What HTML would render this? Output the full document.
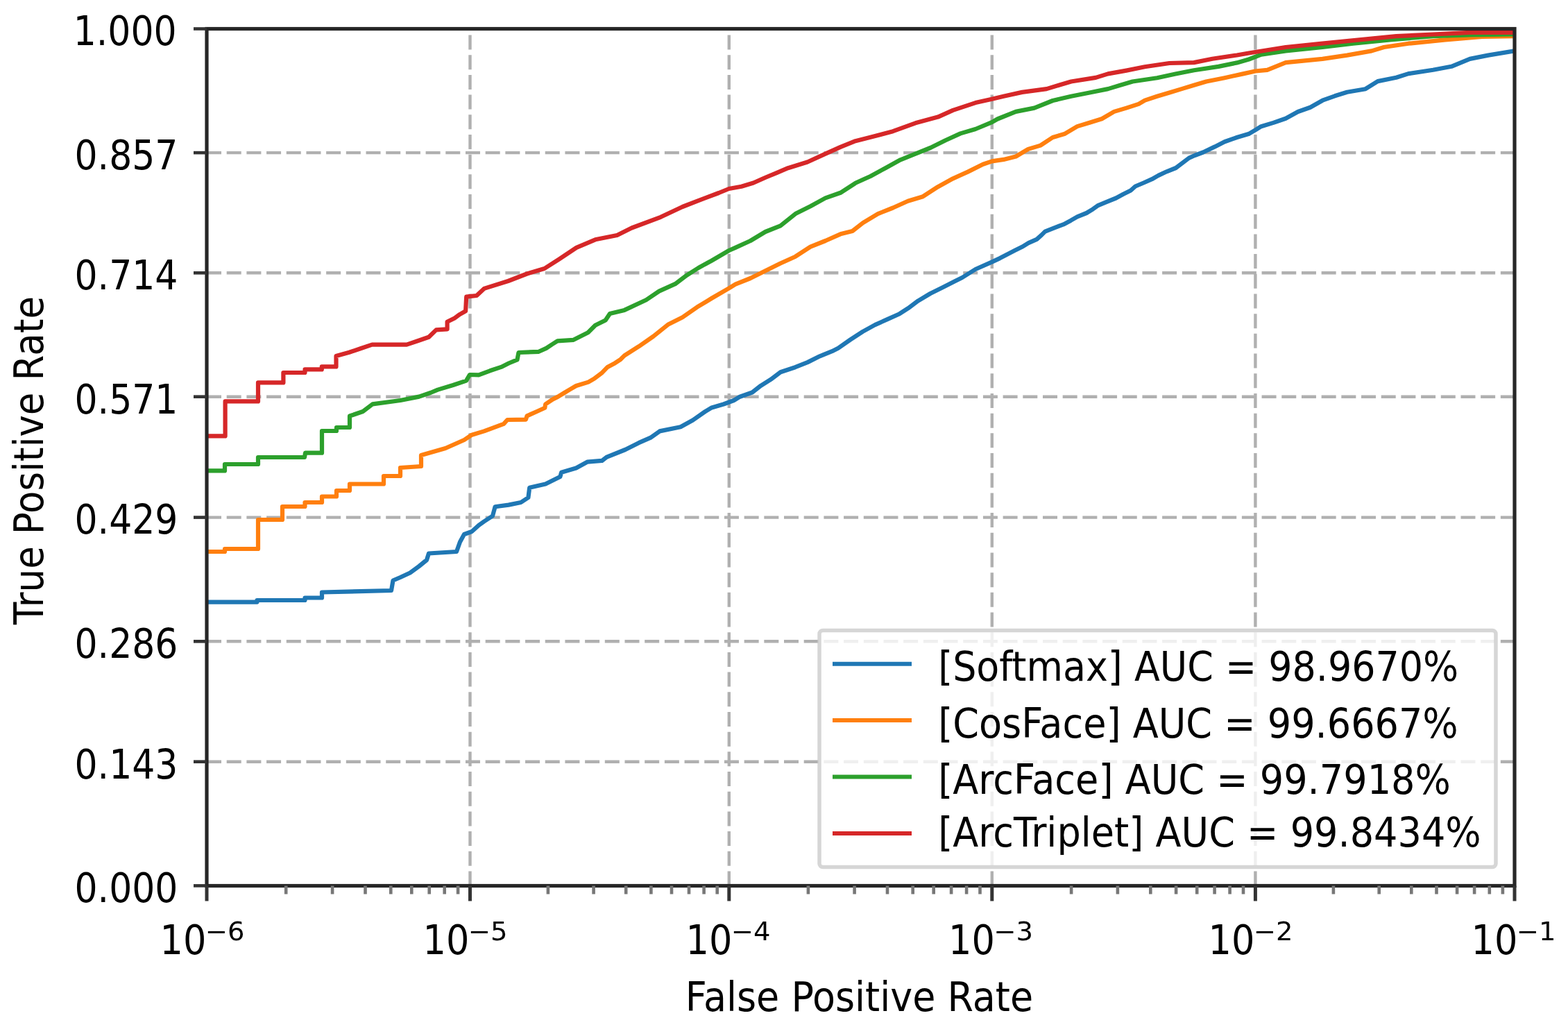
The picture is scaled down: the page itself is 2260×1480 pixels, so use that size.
<!DOCTYPE html>
<html><head><meta charset="utf-8"><title>ROC</title><style>
html,body{margin:0;padding:0;background:#fff;width:2260px;height:1480px;overflow:hidden}
svg{display:block}
text{font-family:"DejaVu Sans","Liberation Sans",sans-serif;fill:#000}
</style></head><body>
<svg width="2260" height="1480" viewBox="0 0 2260 1480">
<rect width="2260" height="1480" fill="#fff"/>
<line x1="298" y1="220.1" x2="2183" y2="220.1" stroke="#b0b0b0" stroke-width="4.4" stroke-dasharray="21 7.69" fill="none"/>
<line x1="298" y1="393.3" x2="2183" y2="393.3" stroke="#b0b0b0" stroke-width="4.4" stroke-dasharray="21 7.69" fill="none"/>
<line x1="298" y1="571.7" x2="2183" y2="571.7" stroke="#b0b0b0" stroke-width="4.4" stroke-dasharray="21 7.69" fill="none"/>
<line x1="298" y1="745.6" x2="2183" y2="745.6" stroke="#b0b0b0" stroke-width="4.4" stroke-dasharray="21 7.69" fill="none"/>
<line x1="298" y1="924.3" x2="2183" y2="924.3" stroke="#b0b0b0" stroke-width="4.4" stroke-dasharray="21 7.69" fill="none"/>
<line x1="298" y1="1097.7" x2="2183" y2="1097.7" stroke="#b0b0b0" stroke-width="4.4" stroke-dasharray="21 7.69" fill="none"/>
<line x1="677.5" y1="1276.5" x2="677.5" y2="41.5" stroke="#b0b0b0" stroke-width="4.4" stroke-dasharray="21 7.69" fill="none"/>
<line x1="1050.8" y1="1276.5" x2="1050.8" y2="41.5" stroke="#b0b0b0" stroke-width="4.4" stroke-dasharray="21 7.69" fill="none"/>
<line x1="1429.8" y1="1276.5" x2="1429.8" y2="41.5" stroke="#b0b0b0" stroke-width="4.4" stroke-dasharray="21 7.69" fill="none"/>
<line x1="1809.4" y1="1276.5" x2="1809.4" y2="41.5" stroke="#b0b0b0" stroke-width="4.4" stroke-dasharray="21 7.69" fill="none"/>
<clipPath id="c"><rect x="298" y="41.5" width="1885" height="1235.0"/></clipPath>
<g clip-path="url(#c)" fill="none" stroke-width="6.2" stroke-linejoin="round" stroke-linecap="butt">
<polyline stroke="#1f77b4" points="298.0,867.6 370.5,867.6 370.5,865.0 439.5,865.0 439.5,861.5 464.0,861.5 464.0,853.5 564.0,851.0 566.5,836.5 577.0,832.0 591.0,825.5 604.0,816.0 615.0,807.0 618.0,797.5 658.0,795.0 663.0,781.0 669.0,770.0 680.0,766.0 690.0,757.0 697.7,751.5 710.0,743.5 713.6,730.3 733.0,727.6 750.8,724.0 761.4,717.0 763.2,702.8 786.2,697.5 807.4,686.9 809.2,680.7 830.4,674.5 846.4,665.7 867.6,663.9 874.7,658.6 901.2,648.0 920.7,638.2 938.4,630.3 950.8,621.4 980.9,615.2 998.6,605.5 1016.3,593.1 1025.0,587.8 1042.8,582.5 1057.7,577.0 1066.5,571.7 1084.2,565.5 1096.6,555.8 1110.8,546.9 1125.0,536.3 1146.2,529.2 1163.9,522.1 1181.6,513.3 1199.3,506.2 1208.1,501.8 1225.8,489.4 1243.5,477.9 1261.2,468.1 1279.0,460.2 1296.6,452.2 1309.0,444.2 1323.2,433.6 1340.9,423.0 1358.6,414.2 1376.3,405.3 1386.9,400.0 1406.0,388.0 1430.0,377.4 1441.2,372.1 1451.9,366.4 1462.5,361.1 1473.1,355.8 1482.4,350.2 1494.3,344.9 1501.0,338.9 1506.3,333.6 1519.6,328.3 1532.8,323.4 1543.5,317.7 1552.7,312.3 1566.0,307.0 1575.3,301.3 1582.0,296.4 1595.2,290.8 1608.5,285.5 1619.1,279.8 1629.7,274.5 1636.4,268.5 1648.3,263.5 1660.3,258.2 1669.6,252.9 1681.5,247.3 1694.8,242.0 1713.8,227.6 1722.0,224.0 1734.0,219.5 1751.0,211.4 1765.1,204.2 1782.8,198.0 1800.5,192.7 1809.4,187.4 1817.7,182.2 1835.4,176.9 1853.1,170.7 1870.8,161.0 1888.5,154.8 1906.2,144.7 1923.9,138.3 1941.6,132.7 1968.1,128.2 1985.8,117.1 2012.4,111.8 2030.1,106.1 2065.5,100.8 2092.0,95.8 2118.6,84.9 2145.1,79.6 2183.0,73.4"/>
<polyline stroke="#ff7f0e" points="298.0,795.0 324.0,795.0 324.0,791.0 372.0,791.0 372.0,749.0 407.0,749.0 407.0,730.0 439.5,730.0 439.5,724.0 464.0,724.0 464.0,715.5 485.0,715.5 485.0,707.0 504.0,707.0 504.0,697.5 553.0,697.5 553.0,686.0 577.0,686.0 577.0,674.0 607.0,672.0 607.0,656.0 642.0,646.0 669.0,634.0 680.0,626.7 697.7,621.4 726.0,610.8 731.3,605.0 757.9,604.6 759.6,599.3 773.8,593.0 785.3,587.8 786.2,582.5 796.8,575.4 803.9,571.9 812.7,566.5 821.6,561.2 830.4,556.0 848.0,550.6 857.0,545.3 867.0,537.8 875.7,528.9 886.5,523.2 894.6,517.8 900.0,512.4 920.8,499.2 941.8,484.6 962.7,467.8 983.7,457.3 1004.6,442.7 1025.5,430.0 1050.7,415.4 1060.0,409.7 1081.6,401.0 1103.2,390.3 1124.9,379.5 1146.5,369.7 1168.1,355.7 1189.7,347.0 1211.4,337.3 1228.6,333.0 1243.8,321.1 1265.4,308.1 1287.0,299.5 1308.6,289.7 1330.3,283.2 1351.9,269.2 1373.5,257.3 1395.0,247.6 1416.8,236.8 1429.7,232.4 1446.5,229.9 1464.2,225.5 1481.9,214.9 1499.6,209.6 1517.3,198.0 1535.0,192.7 1552.7,182.1 1570.4,176.8 1588.1,171.2 1605.8,160.9 1623.5,155.6 1641.2,149.9 1650.1,144.6 1667.8,138.8 1685.5,133.5 1703.2,128.1 1720.9,122.8 1738.6,117.5 1765.1,112.2 1791.7,106.4 1809.4,102.5 1826.5,100.8 1853.1,90.2 1906.2,84.9 1941.6,79.6 1977.0,73.4 1994.7,68.0 2030.1,62.7 2083.2,57.4 2136.3,53.0 2183.0,52.1"/>
<polyline stroke="#2ca02c" points="298.0,678.4 324.0,678.4 324.0,669.0 372.0,669.0 372.0,659.0 439.0,659.0 440.0,652.7 464.0,652.7 464.0,621.0 485.0,621.0 485.0,616.0 504.0,616.0 504.0,599.5 523.0,593.0 537.0,582.4 577.0,577.0 604.0,571.6 620.5,566.0 631.0,561.6 653.0,555.0 672.0,548.6 677.0,540.0 690.0,540.3 706.2,534.3 722.4,528.9 733.2,523.5 745.5,518.4 747.5,508.0 776.5,506.8 787.3,501.9 795.4,496.5 803.5,491.4 826.6,489.8 847.5,479.3 858.0,468.8 872.7,461.5 879.0,452.0 900.0,446.9 931.3,432.2 950.0,419.6 973.2,409.2 990.0,396.6 1006.7,386.0 1025.5,375.7 1050.7,361.0 1060.0,356.8 1081.6,347.0 1103.2,334.0 1124.9,325.4 1146.5,308.1 1168.1,297.3 1189.7,285.4 1211.4,277.8 1233.0,263.8 1254.6,254.0 1276.2,242.2 1297.8,230.3 1319.5,221.6 1341.0,213.0 1362.7,202.2 1384.3,192.4 1406.0,186.0 1429.7,176.2 1437.7,171.5 1464.2,160.9 1490.8,155.6 1517.3,145.0 1543.9,138.8 1570.4,133.5 1597.0,128.1 1614.7,122.8 1632.4,117.5 1667.8,112.2 1694.3,106.5 1720.9,101.2 1756.3,95.9 1782.8,90.4 1800.0,85.5 1817.7,78.7 1853.1,73.4 1906.2,68.0 1950.4,62.7 2003.5,57.4 2065.5,52.1 2118.6,50.4 2183.0,49.5"/>
<polyline stroke="#d62728" points="298.0,628.4 324.6,628.4 324.6,578.4 372.0,578.4 372.0,551.4 408.4,551.4 408.4,537.0 439.5,537.0 439.5,532.4 463.8,532.4 463.8,528.4 484.5,528.4 484.5,513.0 503.4,507.8 520.4,502.0 536.3,496.6 586.2,496.6 602.1,491.3 618.0,485.8 628.7,475.4 644.6,474.3 644.6,463.7 655.2,458.4 662.6,453.1 671.1,448.3 672.2,427.6 687.0,426.0 697.7,415.9 732.4,405.0 759.6,394.5 784.7,387.0 805.7,373.6 830.8,356.8 858.0,345.3 889.4,339.0 910.4,328.5 952.3,312.8 983.7,298.0 1004.6,289.8 1036.0,278.0 1050.7,272.0 1068.7,268.8 1086.0,263.5 1104.0,255.5 1120.0,248.8 1135.7,242.2 1163.8,233.5 1189.7,221.6 1211.4,211.9 1233.0,203.2 1254.6,197.8 1287.0,189.2 1319.5,177.3 1351.9,168.6 1373.5,158.9 1406.0,148.1 1429.7,142.7 1446.5,138.8 1473.1,132.9 1508.5,128.1 1526.2,122.8 1543.9,117.5 1579.3,111.9 1597.0,106.4 1623.5,101.6 1650.0,96.3 1685.5,91.0 1720.9,90.1 1747.4,84.8 1782.8,79.5 1800.0,76.5 1853.1,68.0 1906.2,62.7 1959.3,57.4 2012.4,52.1 2065.5,49.5 2118.6,46.8 2183.0,46.8"/>
</g>
<rect x="298" y="41.5" width="1885" height="1235.0" fill="none" stroke="#262626" stroke-width="5.2"/>
<line x1="279" y1="41.5" x2="298" y2="41.5" stroke="#333" stroke-width="4.6"/>
<text transform="translate(105.72,65.30) scale(0.8970,1)" font-size="58">1.000</text>
<line x1="279" y1="220.1" x2="298" y2="220.1" stroke="#333" stroke-width="4.6"/>
<text transform="translate(107.51,243.90) scale(0.8970,1)" font-size="58">0.857</text>
<line x1="279" y1="393.3" x2="298" y2="393.3" stroke="#333" stroke-width="4.6"/>
<text transform="translate(107.51,417.10) scale(0.8970,1)" font-size="58">0.714</text>
<line x1="279" y1="571.7" x2="298" y2="571.7" stroke="#333" stroke-width="4.6"/>
<text transform="translate(107.51,595.50) scale(0.8970,1)" font-size="58">0.571</text>
<line x1="279" y1="745.6" x2="298" y2="745.6" stroke="#333" stroke-width="4.6"/>
<text transform="translate(107.51,769.40) scale(0.8970,1)" font-size="58">0.429</text>
<line x1="279" y1="924.3" x2="298" y2="924.3" stroke="#333" stroke-width="4.6"/>
<text transform="translate(107.51,948.10) scale(0.8970,1)" font-size="58">0.286</text>
<line x1="279" y1="1097.7" x2="298" y2="1097.7" stroke="#333" stroke-width="4.6"/>
<text transform="translate(107.51,1121.50) scale(0.8970,1)" font-size="58">0.143</text>
<line x1="279" y1="1276.4" x2="298" y2="1276.4" stroke="#333" stroke-width="4.6"/>
<text transform="translate(107.51,1300.20) scale(0.8970,1)" font-size="58">0.000</text>
<line x1="298" y1="1276.5" x2="298" y2="1298.5" stroke="#333" stroke-width="5"/>
<line x1="677.5" y1="1276.5" x2="677.5" y2="1298.5" stroke="#333" stroke-width="5"/>
<line x1="1050.8" y1="1276.5" x2="1050.8" y2="1298.5" stroke="#333" stroke-width="5"/>
<line x1="1429.8" y1="1276.5" x2="1429.8" y2="1298.5" stroke="#333" stroke-width="5"/>
<line x1="1809.4" y1="1276.5" x2="1809.4" y2="1298.5" stroke="#333" stroke-width="5"/>
<line x1="2183" y1="1276.5" x2="2183" y2="1298.5" stroke="#333" stroke-width="5"/>
<line x1="412.2" y1="1276.5" x2="412.2" y2="1288.5" stroke="#777" stroke-width="4.6"/>
<line x1="479.1" y1="1276.5" x2="479.1" y2="1288.5" stroke="#777" stroke-width="4.6"/>
<line x1="526.5" y1="1276.5" x2="526.5" y2="1288.5" stroke="#777" stroke-width="4.6"/>
<line x1="563.3" y1="1276.5" x2="563.3" y2="1288.5" stroke="#777" stroke-width="4.6"/>
<line x1="593.3" y1="1276.5" x2="593.3" y2="1288.5" stroke="#777" stroke-width="4.6"/>
<line x1="618.7" y1="1276.5" x2="618.7" y2="1288.5" stroke="#777" stroke-width="4.6"/>
<line x1="640.7" y1="1276.5" x2="640.7" y2="1288.5" stroke="#777" stroke-width="4.6"/>
<line x1="660.1" y1="1276.5" x2="660.1" y2="1288.5" stroke="#777" stroke-width="4.6"/>
<line x1="789.9" y1="1276.5" x2="789.9" y2="1288.5" stroke="#777" stroke-width="4.6"/>
<line x1="855.6" y1="1276.5" x2="855.6" y2="1288.5" stroke="#777" stroke-width="4.6"/>
<line x1="902.2" y1="1276.5" x2="902.2" y2="1288.5" stroke="#777" stroke-width="4.6"/>
<line x1="938.4" y1="1276.5" x2="938.4" y2="1288.5" stroke="#777" stroke-width="4.6"/>
<line x1="968.0" y1="1276.5" x2="968.0" y2="1288.5" stroke="#777" stroke-width="4.6"/>
<line x1="993.0" y1="1276.5" x2="993.0" y2="1288.5" stroke="#777" stroke-width="4.6"/>
<line x1="1014.6" y1="1276.5" x2="1014.6" y2="1288.5" stroke="#777" stroke-width="4.6"/>
<line x1="1033.7" y1="1276.5" x2="1033.7" y2="1288.5" stroke="#777" stroke-width="4.6"/>
<line x1="1164.9" y1="1276.5" x2="1164.9" y2="1288.5" stroke="#777" stroke-width="4.6"/>
<line x1="1231.6" y1="1276.5" x2="1231.6" y2="1288.5" stroke="#777" stroke-width="4.6"/>
<line x1="1279.0" y1="1276.5" x2="1279.0" y2="1288.5" stroke="#777" stroke-width="4.6"/>
<line x1="1315.7" y1="1276.5" x2="1315.7" y2="1288.5" stroke="#777" stroke-width="4.6"/>
<line x1="1345.7" y1="1276.5" x2="1345.7" y2="1288.5" stroke="#777" stroke-width="4.6"/>
<line x1="1371.1" y1="1276.5" x2="1371.1" y2="1288.5" stroke="#777" stroke-width="4.6"/>
<line x1="1393.1" y1="1276.5" x2="1393.1" y2="1288.5" stroke="#777" stroke-width="4.6"/>
<line x1="1412.5" y1="1276.5" x2="1412.5" y2="1288.5" stroke="#777" stroke-width="4.6"/>
<line x1="1544.1" y1="1276.5" x2="1544.1" y2="1288.5" stroke="#777" stroke-width="4.6"/>
<line x1="1610.9" y1="1276.5" x2="1610.9" y2="1288.5" stroke="#777" stroke-width="4.6"/>
<line x1="1658.3" y1="1276.5" x2="1658.3" y2="1288.5" stroke="#777" stroke-width="4.6"/>
<line x1="1695.1" y1="1276.5" x2="1695.1" y2="1288.5" stroke="#777" stroke-width="4.6"/>
<line x1="1725.2" y1="1276.5" x2="1725.2" y2="1288.5" stroke="#777" stroke-width="4.6"/>
<line x1="1750.6" y1="1276.5" x2="1750.6" y2="1288.5" stroke="#777" stroke-width="4.6"/>
<line x1="1772.6" y1="1276.5" x2="1772.6" y2="1288.5" stroke="#777" stroke-width="4.6"/>
<line x1="1792.0" y1="1276.5" x2="1792.0" y2="1288.5" stroke="#777" stroke-width="4.6"/>
<line x1="1921.9" y1="1276.5" x2="1921.9" y2="1288.5" stroke="#777" stroke-width="4.6"/>
<line x1="1987.7" y1="1276.5" x2="1987.7" y2="1288.5" stroke="#777" stroke-width="4.6"/>
<line x1="2034.3" y1="1276.5" x2="2034.3" y2="1288.5" stroke="#777" stroke-width="4.6"/>
<line x1="2070.5" y1="1276.5" x2="2070.5" y2="1288.5" stroke="#777" stroke-width="4.6"/>
<line x1="2100.1" y1="1276.5" x2="2100.1" y2="1288.5" stroke="#777" stroke-width="4.6"/>
<line x1="2125.1" y1="1276.5" x2="2125.1" y2="1288.5" stroke="#777" stroke-width="4.6"/>
<line x1="2146.8" y1="1276.5" x2="2146.8" y2="1288.5" stroke="#777" stroke-width="4.6"/>
<line x1="2165.9" y1="1276.5" x2="2165.9" y2="1288.5" stroke="#777" stroke-width="4.6"/>
<text transform="translate(230.56,1375.00) scale(0.9062,1)" font-size="58">10</text>
<text transform="translate(295.83,1355.00) scale(1.0417,1)" font-size="37">−6</text>
<text transform="translate(609.56,1375.00) scale(0.9062,1)" font-size="58">10</text>
<text transform="translate(674.83,1355.00) scale(1.0417,1)" font-size="37">−5</text>
<text transform="translate(988.56,1375.00) scale(0.9062,1)" font-size="58">10</text>
<text transform="translate(1053.83,1355.00) scale(1.0417,1)" font-size="37">−4</text>
<text transform="translate(1367.06,1375.00) scale(0.9062,1)" font-size="58">10</text>
<text transform="translate(1432.33,1355.00) scale(1.0417,1)" font-size="37">−3</text>
<text transform="translate(1741.56,1375.00) scale(0.9062,1)" font-size="58">10</text>
<text transform="translate(1806.83,1355.00) scale(1.0417,1)" font-size="37">−2</text>
<text transform="translate(2120.56,1375.00) scale(0.9062,1)" font-size="58">10</text>
<text transform="translate(2185.83,1355.00) scale(1.0417,1)" font-size="37">−1</text>
<text transform="translate(987.82,1457.00) scale(0.9304,1)" font-size="58">False Positive Rate</text>
<text transform="translate(61.8,900.00) rotate(-90) scale(0.9163,1)" font-size="58">True Positive Rate</text>
<rect x="1181" y="908.4" width="975" height="341.1" rx="5" ry="5" fill="#fff" fill-opacity="0.8" stroke="#cccccc" stroke-opacity="0.8" stroke-width="5.5"/>
<line x1="1200" y1="956.8" x2="1314" y2="956.8" stroke="#1f77b4" stroke-width="6"/>
<text transform="translate(1352.16,980.60) scale(0.9289,1)" font-size="58">[Softmax] AUC = 98.9670%</text>
<line x1="1200" y1="1038" x2="1314" y2="1038" stroke="#ff7f0e" stroke-width="6"/>
<text transform="translate(1352.14,1062.80) scale(0.9324,1)" font-size="58">[CosFace] AUC = 99.6667%</text>
<line x1="1200" y1="1119.5" x2="1314" y2="1119.5" stroke="#2ca02c" stroke-width="6"/>
<text transform="translate(1352.14,1143.50) scale(0.9329,1)" font-size="58">[ArcFace] AUC = 99.7918%</text>
<line x1="1200" y1="1201" x2="1314" y2="1201" stroke="#d62728" stroke-width="6"/>
<text transform="translate(1352.14,1219.70) scale(0.9327,1)" font-size="58">[ArcTriplet] AUC = 99.8434%</text>
</svg></body></html>
